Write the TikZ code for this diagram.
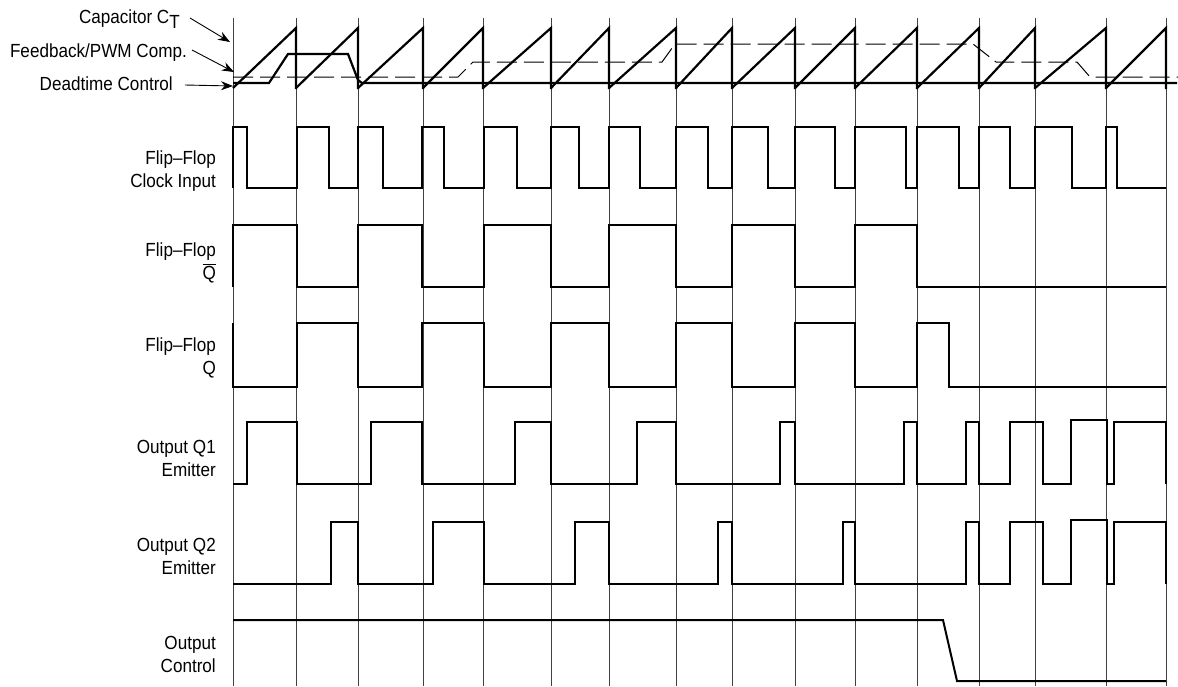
\documentclass[tikz,border=0pt]{standalone}
\usepackage{fontspec}
\setmainfont{Liberation Sans}[FakeStretch=0.9]
\usetikzlibrary{arrows.meta}

\begin{document}
\begin{tikzpicture}[
    x=1pt, y=-1pt,
    lbl/.style={anchor=base east, align=right, inner sep=0pt, font=\fontsize{19}{23}\selectfont},
    gridline/.style={line width=0.8pt, draw=black!75},
    saw/.style={line width=2.2pt, line join=miter},
    wave/.style={line width=2pt, line join=miter},
    cmpline/.style={line width=1pt, dash pattern=on 20pt off 7pt},
    lblarrow/.style={-{Stealth[length=12pt, width=9pt]}, line width=0.9pt},
]
\useasboundingbox (0,0) rectangle (1178,686);

% Zeitraster
\foreach \gx in {233,296,358,423,483,551,609,676,732,795,855,917,979,1035,1106,1166}
    \draw[gridline] (\gx,18) -- (\gx,686);

% Saegezahn C_T
\foreach \xa/\xb in {233/296, 296/358, 358/423, 423/483, 483/551, 551/609, 609/676, 676/732,
                     732/795, 795/855, 855/917, 917/979, 979/1035, 1035/1106, 1106/1166}
    \draw[saw] (\xa,88) -- (\xb,28) -- (\xb,89);

% Vergleichspegel
\draw[saw] (233,83) -- (269,83) -- (288,54) -- (348,54) -- (358,80) -- (362,83) -- (1177,83);
\draw[cmpline] (233,77) -- (458,77) -- (473,62) -- (662,62) -- (675,44) -- (973,44)
    -- (996,62) -- (1077,62) -- (1090,77) -- (1178,77);

% Beschriftung oben
\node[lbl] (lblCap) at (180,23) {Capacitor C\raisebox{-0.5ex}{T}};
\node[lbl] (lblFb)  at (187,57) {Feedback/PWM Comp.};
\node[lbl] (lblDt)  at (173,90) {Deadtime Control};
\coordinate (tipCap) at (230,42);
\coordinate (tipFb)  at (234,72);
\coordinate (tipDt)  at (233,86);
\draw[lblarrow] (190,18) -- (tipCap);
\draw[lblarrow] (192,50) -- (tipFb);
\draw[lblarrow] (185,85) -- (tipDt);

% Flip-Flop Takt
\node[lbl] (lblClk) at (216,187) {Flip--Flop\\Clock Input};
\draw[wave] (233,188) |- (247,127) |- (297,188) |- (329,127) |- (358,188) |- (383,127)
    |- (422,188) |- (444,127) |- (484,188) |- (517,127) |- (551,188) |- (579,127)
    |- (609,188) |- (640,127) |- (676,188) |- (708,127) |- (732,188) |- (768,127)
    |- (795,188) |- (835,127) |- (855,188) |- (906,127) |- (917,188) |- (959,127)
    |- (979,188) |- (1010,127) |- (1035,188) |- (1072,127) |- (1106,188) |- (1117,127)
    |- (1166,188);

% Flip-Flop Q quer
\node[lbl] (lblQb) at (216,279) {Flip--Flop\\$\overline{\mbox{Q}}$};
\draw[wave] (233,287) |- (297,225) |- (358,287) |- (422,225) |- (484,287) |- (551,225)
    |- (609,287) |- (676,225) |- (732,287) |- (795,225) |- (855,287) |- (917,225)
    |- (1166,287);

% Flip-Flop Q
\node[lbl] (lblQ) at (216,374) {Flip--Flop\\Q};
\draw[wave] (233,323) |- (297,387) |- (358,323) |- (422,387) |- (484,323) |- (551,387)
    |- (609,323) |- (676,387) |- (732,323) |- (795,387) |- (855,323) |- (917,387)
    |- (949,323) |- (1166,387);

% Ausgang Q1
\node[lbl] (lblQone) at (216,476) {Output Q1\\Emitter};
\draw[wave] (233,484) -| (247,422) -| (297,484) -| (371,422) -| (422,484) -| (515,422)
    -| (551,484) -| (637,422) -| (676,484) -| (780,422) -| (795,484) -| (904,422)
    -| (917,484) -| (966,422) -| (979,484) -| (1010,422) -| (1043,484) -| (1071,420)
    -| (1107,484) -| (1114,422) -| (1166,484);

% Ausgang Q2
\node[lbl] (lblQtwo) at (216,574) {Output Q2\\Emitter};
\draw[wave] (233,584) -| (331,522) -| (358,584) -| (433,522) -| (484,584) -| (575,522)
    -| (609,584) -| (718,522) -| (732,584) -| (843,522) -| (855,584) -| (966,522)
    -| (979,584) -| (1010,522) -| (1043,584) -| (1071,520) -| (1107,584) -| (1114,522)
    -| (1166,584);

% Output Control
\node[lbl] (lblCtl) at (216,672) {Output\\Control};
\draw[wave] (233,620) -- (943,620) -- (957,681) -- (1166,681);

\end{tikzpicture}
\end{document}
